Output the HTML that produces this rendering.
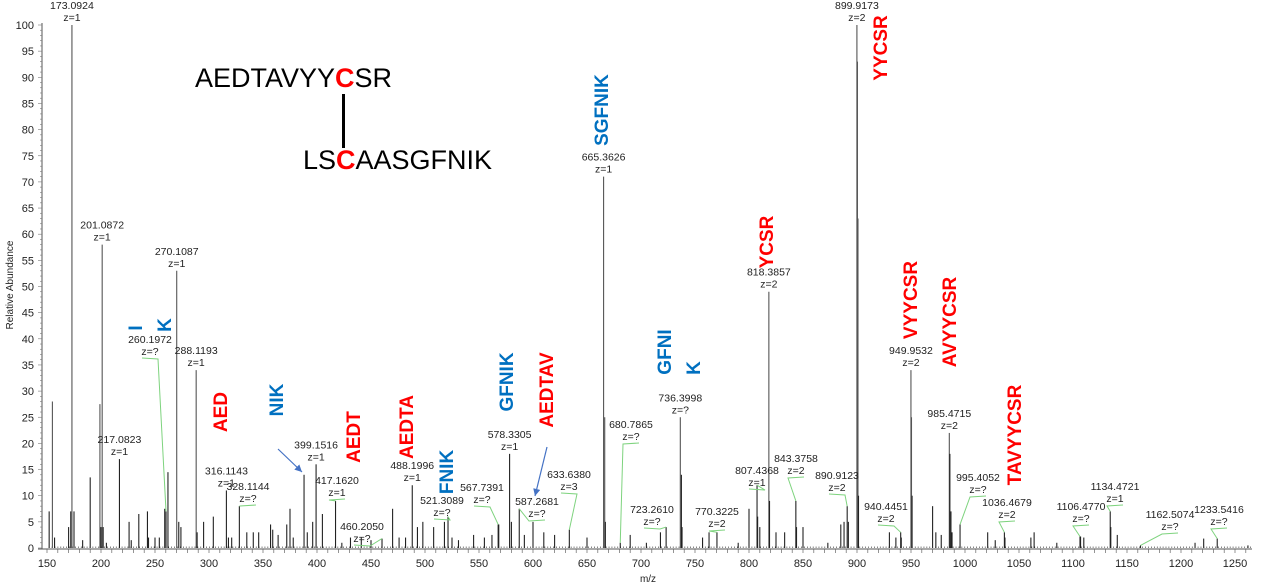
<!DOCTYPE html>
<html><head><meta charset="utf-8"><style>
html,body{margin:0;padding:0;background:#fff;}
svg{display:block;font-family:"Liberation Sans",Arial,sans-serif;}
</style></head><body>
<svg id="chart" width="1280" height="588" viewBox="0 0 1280 588" xmlns="http://www.w3.org/2000/svg"></svg>
<script>
// ---- data ----
const peakMz = [152,155,157,170,172,173.09,175,183,190,199,200,201.09,202,205,217.08,226,228,235,243,244,250,254,259,260.2,262,270.11,272,274,288.12,289,295,304,316.11,318,321,328.11,335,341,346,357,359,364,372,375,378,388,391,396,399.15,405,417.16,423,431,441,450,460.2,470,476,482,488.2,493,498,508,518,521.31,525,531,545,555,562,567.74,568.3,578.33,580,587.27,592,600,610,620,633.64,650,665.36,666.4,667,680.79,690,705,718,723.26,736.4,737.4,738,757,763,770.32,790,800,807.44,808,810,818.39,819,825,833,843.38,844,850,873,885,888,890.91,892,899.92,900.4,900.9,901.4,930,936,940.45,941,949.95,950.45,951,970,973,978,985.47,986,987,988,995.41,1021,1028,1036.47,1037,1061,1064,1085,1106.48,1107,1110,1134.47,1135,1141,1162.51,1213,1221,1233.54,1262];
const peakInt = [7,28,2,4,7,100,7,1.5,13.5,27.5,4,58,4,1,17,5,1.5,6.5,7,2,2,2,7.5,7,14.5,53,5,4,34,3,5,6,11,2,2,8,3,3,3,4.5,3.5,2.5,4.5,7.5,2,14,3,5,16,6.5,9,1,2,2,1.5,1.8,7.5,2,2,12,4,5,4,5,6,2,1.5,2.5,2,2.5,4.5,4.5,18,5,7.5,2.5,5,3,2.5,3.5,2,71,25,5,1,2.5,1,3,4,25,14,4,2,3,3,1,7.5,12,6,4,49,9,3,3,9,4,4,1,4.5,5,8,5,100,93,63,10,3,2,3,2,34,25,10,8,3,2.5,22,18,7,3,4.5,3,1.5,3,2,2,3,1,2.2,2.2,2,7,4,2.5,0.5,1,1.8,1.8,0.5];
// annotated peaks
const annMz = ["173.0924","201.0872","270.1087","288.1193","260.1972","217.0823","316.1143","328.1144","399.1516","417.1620","460.2050","488.1996","521.3089","567.7391","578.3305","587.2681","633.6380","665.3626","680.7865","723.2610","736.3998","770.3225","807.4368","818.3857","843.3758","890.9123","899.9173","940.4451","949.9532","985.4715","995.4052","1036.4679","1106.4770","1134.4721","1162.5074","1233.5416"];
const annZ = ["1","1","1","1","?","1","1","?","1","1","?","1","?","?","1","?","3","1","?","?","?","2","1","2","2","2","2","2","2","2","?","2","?","1","?","?"];
const annPeak = [173.09,201.09,270.11,288.12,260.2,217.08,316.11,328.11,399.15,417.16,460.2,488.2,521.31,567.74,578.33,587.27,633.64,665.36,680.79,723.26,736.4,770.32,807.44,818.39,843.38,890.91,899.92,940.45,949.95,985.47,995.41,1036.47,1106.48,1134.47,1162.51,1233.54];
const annInt = [100,58,53,34,7,17,11,8,16,9,1.8,12,6,4.5,18,7.5,3.5,71,1,4,25,3,12,49,9,8,100,3,34,22,4.5,3,2.2,7,0.5,1.8];
const annLX = [null,null,null,null,150,null,null,248,null,337,362,null,442,482,null,537,569,null,631,652,null,717,757,null,796,837,null,886,null,null,978,1007,1081,1115,1170,1219];
const annLY = [null,null,null,null,343,null,null,490,null,484,530,null,504,491,null,505,478,null,428,513,null,515,474,null,462,479,null,510,null,null,481,506,510,490,518,513];
const yTicks = [0,5,10,15,20,25,30,35,40,45,50,55,60,65,70,75,80,85,90,95,100];
const xTicks = [150,200,250,300,350,400,450,500,550,600,650,700,750,800,850,900,950,1000,1050,1100,1150,1200,1250];
const fragText = ["I","K","AED","NIK","AEDT","AEDTA","FNIK","GFNIK","AEDTAV","SGFNIK","GFNI","K","YCSR","YYCSR","VYYCSR","AVYYCSR","TAVYYCSR"];
const fragColor = ["b","b","r","b","r","r","b","b","r","b","b","b","r","r","r","r","r"];
const fragX = [135,164,220,276,353,406,446,506,546,601,664,693,766,880,910,949,1014];
const fragY = [328,325,412,400,437,427,472,382,390,110,352,368,242,48,300,322,435];

// ---- axes ----
const X = mz => 47 + (mz - 150) * 1.08;
const Y = v => 548 - v * 5.23;
const svg = document.getElementById('chart');
const NS = 'http://www.w3.org/2000/svg';
function mk(tag, attrs, parent) {
  const e = document.createElementNS(NS, tag);
  for (const k in attrs) e.setAttribute(k, attrs[k]);
  (parent || svg).appendChild(e);
  return e;
}
const yAxis = mk('g', {});


mk('line', {x1:42, y1:Y(100)-2, x2:42, y2:549, stroke:'#555', 'stroke-width':1}, yAxis);
for (let v = 0; v <= 100; v++) {
  mk('line', {x1: v % 5 === 0 ? 38 : 40, y1: Y(v), x2: 42, y2: Y(v), stroke:'#777', 'stroke-width':0.6}, yAxis);
}
yTicks.forEach(v => {
  const t = mk('text', {x:34, y:Y(v)+4, 'font-size':11, 'text-anchor':'end', fill:'#222'}, yAxis);
  t.textContent = v;
  
  
});
const yt = mk('text', {x:0, y:0, 'font-size':10, 'text-anchor':'middle', fill:'#222', transform:'translate(13,285) rotate(-90)'});
yt.textContent = 'Relative Abundance';


const xAxis = mk('g', {});


mk('line', {x1:38, y1:549, x2:1252, y2:549, stroke:'#555', 'stroke-width':1}, xAxis);
for (let m = 150; m <= 1260; m += 10) {
  mk('line', {x1:X(m), y1:549, x2:X(m), y2:553, stroke:'#666', 'stroke-width':0.7}, xAxis);
}
xTicks.forEach(m => {
  const t = mk('text', {x:X(m), y:567, 'font-size':11, 'text-anchor':'middle', fill:'#222'}, xAxis);
  t.textContent = m;
  
  
});
const xt = mk('text', {x:648, y:582, 'font-size':10, 'text-anchor':'middle', fill:'#222'});
xt.textContent = 'm/z';


const noise = mk('g', {});


for (let m = 152; m < 1265; m += 2.7) {
  mk('line', {x1:X(m), y1:548, x2:X(m), y2:546.5, stroke:'#333', 'stroke-width':0.6}, noise);
}
const peaks = mk('g', {});


peakMz.forEach((m, i) => {
  const l = mk('line', {x1:X(m), y1:548, x2:X(m), y2:Y(peakInt[i]), stroke: peakInt[i] > 20 ? '#555' : '#222', 'stroke-width':1.1}, peaks);
  
  
});
const anns = mk('g', {});


annMz.forEach((s, i) => {
  const px = X(annPeak[i]), py = Y(annInt[i]);
  let lx, ly;
  if (annLX[i] === null) { lx = px; ly = py - 16; }
  else {
    lx = annLX[i]; ly = annLY[i];
    const sx = px < lx ? lx - 8 : lx + 8;
    const ex = px < lx ? lx + 8 : lx - 8;
    mk('polyline', {points:`${ex},${ly+15} ${sx},${ly+16} ${px},${py}`, fill:'none', stroke:'#7ed37e', 'stroke-width':1}, anns);
  }
  const t1 = mk('text', {x:lx, y:ly, 'font-size':10.5, 'text-anchor':'middle', fill:'#222'}, anns);
  t1.textContent = s;
  
  
  const t2 = mk('text', {x:lx, y:ly+12, 'font-size':10.5, 'text-anchor':'middle', fill:'#222'}, anns);
  t2.textContent = 'z=' + annZ[i];
  
  
});
fragText.forEach((s, i) => {
  const t = mk('text', {x:0, y:0, 'font-size':19, 'font-weight':'bold', 'text-anchor':'middle', fill: fragColor[i] === 'r' ? '#ff0000' : '#0070c0', transform:`translate(${fragX[i]+7},${fragY[i]}) rotate(-90)`});
  t.textContent = s;
  
  
});
const defs = mk('defs', {});
const mkr = mk('marker', {id:'ah', markerWidth:8, markerHeight:8, refX:6, refY:3, orient:'auto'}, defs);
mk('path', {d:'M0,0 L6,3 L0,6 z', fill:'#4472c4'}, mkr);
const a1 = mk('line', {x1:278, y1:449, x2:302, y2:472, stroke:'#4472c4', 'stroke-width':1.2, 'marker-end':'url(#ah)'});


const a2 = mk('line', {x1:547, y1:447, x2:535, y2:496, stroke:'#4472c4', 'stroke-width':1.2, 'marker-end':'url(#ah)'});


</script>
<div style="position:absolute;left:0;top:0;width:1280px;height:588px;pointer-events:none;font-family:'Liberation Sans',Arial,sans-serif;font-size:27px;color:#000;">
  <div style="position:absolute;left:195px;top:63px;white-space:nowrap;">AEDTAVYY<span style="color:#ff0000;font-weight:bold;">C</span>SR</div>
  <div style="position:absolute;left:342px;top:94px;width:3px;height:54px;background:#000;"></div>
  <div style="position:absolute;left:303px;top:145px;white-space:nowrap;">LS<span style="color:#ff0000;font-weight:bold;">C</span>AASGFNIK</div>
</div>
</body></html>
